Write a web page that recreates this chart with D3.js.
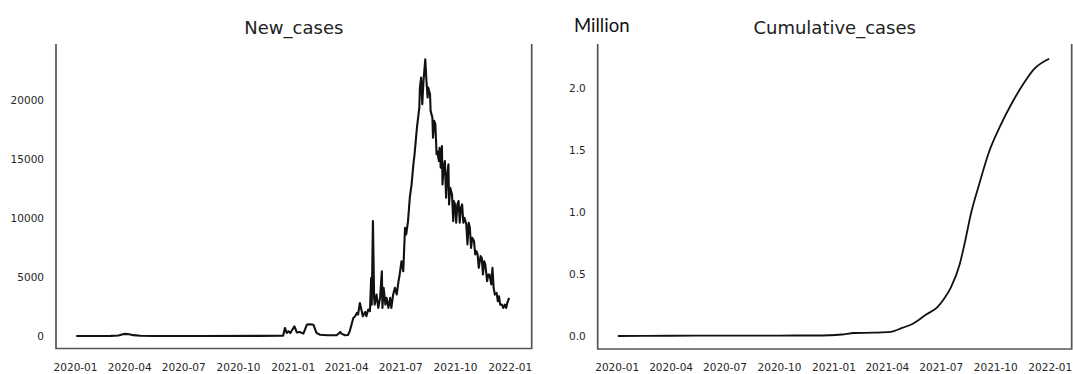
<!DOCTYPE html>
<html>
<head>
<meta charset="utf-8">
<script src="https://cdn.jsdelivr.net/npm/d3@7"></script>
<style>
  html, body { margin: 0; padding: 0; background: #fff; }
  svg { display: block; }
  .tick text { font-family: "DejaVu Sans", sans-serif; font-size: 10.5px; fill: #262626; }
  .title { font-family: "DejaVu Sans", sans-serif; font-size: 18px; fill: #222; }
  .unit { font-family: Lato, "Open Sans", sans-serif; font-size: 18.5px; fill: #111; }
</style>
</head>
<body>
<svg id="chart" width="1073" height="374"></svg>
<script>
// Quarterly date ticks shared by both panels
const tickLabels = ["2020-01", "2020-04", "2020-07", "2020-10", "2021-01",
                    "2021-04", "2021-07", "2021-10", "2022-01"];
const newCaseTicks = [0, 5000, 10000, 15000, 20000];
const cumTicks = [0.0, 0.5, 1.0, 1.5, 2.0];

// Daily new cases (sampled)
const newCaseDates = [
  "2020-01-03","2020-02-01","2020-03-01","2020-03-14","2020-03-20","2020-03-25","2020-04-01",
  "2020-04-08","2020-04-20","2020-05-10","2020-08-01","2020-11-01","2020-12-16","2020-12-19",
  "2020-12-22","2020-12-25","2020-12-28","2021-01-04","2021-01-08","2021-01-13","2021-01-19",
  "2021-01-25","2021-01-30","2021-02-05","2021-02-10","2021-02-16","2021-03-01","2021-03-16",
  "2021-03-22","2021-03-24","2021-03-30","2021-04-04","2021-04-07","2021-04-13","2021-04-16",
  "2021-04-19","2021-04-21","2021-04-24","2021-04-26","2021-04-29","2021-05-03","2021-05-05",
  "2021-05-08","2021-05-11","2021-05-13","2021-05-14","2021-05-16","2021-05-18","2021-05-19",
  "2021-05-22","2021-05-25","2021-05-28","2021-05-31","2021-06-01","2021-06-03","2021-06-06",
  "2021-06-08","2021-06-11","2021-06-14","2021-06-16","2021-06-19","2021-06-22","2021-06-25",
  "2021-06-28","2021-06-30","2021-07-03","2021-07-06","2021-07-09","2021-07-11","2021-07-14",
  "2021-07-17","2021-07-20","2021-07-23","2021-07-25","2021-07-27","2021-07-29","2021-07-31",
  "2021-08-02","2021-08-03","2021-08-05","2021-08-07","2021-08-09","2021-08-10","2021-08-12",
  "2021-08-14","2021-08-16","2021-08-17","2021-08-20","2021-08-21","2021-08-24","2021-08-25",
  "2021-08-27","2021-08-29","2021-08-31","2021-09-01","2021-09-04","2021-09-05","2021-09-07",
  "2021-09-09","2021-09-10","2021-09-12","2021-09-14","2021-09-16","2021-09-18","2021-09-20",
  "2021-09-21","2021-09-23","2021-09-26","2021-09-28","2021-09-29","2021-10-01","2021-10-03",
  "2021-10-05","2021-10-07","2021-10-09","2021-10-11","2021-10-13","2021-10-15","2021-10-17",
  "2021-10-20","2021-10-22","2021-10-24","2021-10-26","2021-10-28","2021-10-30","2021-11-02",
  "2021-11-04","2021-11-06","2021-11-08","2021-11-10","2021-11-13","2021-11-15","2021-11-17",
  "2021-11-19","2021-11-21","2021-11-24","2021-11-26","2021-11-28","2021-12-01","2021-12-03",
  "2021-12-05","2021-12-07","2021-12-10","2021-12-12","2021-12-14","2021-12-16","2021-12-19",
  "2021-12-21","2021-12-24","2021-12-26","2021-12-28","2021-12-31"
];
const newCases = [
  0, 5, 10, 40, 120, 180, 150,
  70, 20, 5, 5, 10, 20, 680,
  260, 400, 250, 820, 300, 340, 200,
  970, 990, 950, 260, 110, 60, 70,
  340, 200, 60, 90, 400, 1530, 1670,
  1960, 1820, 2800, 2380, 1670, 2040, 1670,
  2240, 2100, 4930, 2660, 9740, 3230, 2660,
  3510, 2380, 3230, 5490, 2380, 4080, 2660,
  3230, 2380, 3230, 2380, 3510, 4080, 3510,
  4640, 5210, 6340, 5490, 9170, 8610, 9740,
  11720, 12850, 14550, 15400, 16530, 17660, 18510,
  19360, 21060, 21910, 19650, 21620, 22190, 23460,
  21620, 20210, 21060, 20490, 19080, 18510, 16810,
  18230, 17950, 15400, 15680, 14830, 15960, 14270,
  16100, 12850, 14270, 14830, 11720, 13700, 14550,
  11150, 12570, 12000, 9740, 11440, 11150, 9600,
  11150, 11440, 9600, 10870, 11150, 9600, 10020,
  9450, 7760, 9600, 9170, 7470, 8330, 8040,
  6910, 7190, 6910, 5780, 6770, 6620, 5210,
  6340, 6060, 4640, 5210, 5210, 4370, 5780,
  4080, 3510, 3650, 2950, 3370, 2660, 2660,
  2380, 2660, 2380, 2800, 3230
];

// Cumulative cases, millions
const cumDates = [
  "2020-01-03","2020-04-01","2020-07-01","2020-10-01","2020-12-01","2020-12-26","2021-01-15",
  "2021-02-05","2021-03-10","2021-04-07","2021-04-27","2021-05-15","2021-06-07","2021-06-25",
  "2021-07-06","2021-07-18","2021-08-02","2021-08-10","2021-08-22","2021-09-03","2021-09-20",
  "2021-10-08","2021-10-31","2021-11-17","2021-12-05","2021-12-31"
];
const cumCases = [
  0, 0.0017, 0.0032, 0.0036, 0.004, 0.006, 0.012,
  0.024, 0.027, 0.033, 0.065, 0.099, 0.175, 0.23,
  0.296, 0.39, 0.578, 0.74, 1.008, 1.21, 1.478,
  1.68, 1.895, 2.03, 2.15, 2.236
];

const parse = d3.timeParse("%Y-%m-%d");
const parseMonth = d3.timeParse("%Y-%m");
const fmtMonth = d3.timeFormat("%Y-%m");
const svg = d3.select("#chart");
const xDomain = [parse("2019-11-30"), parse("2022-02-07")];

function panel(opt) {
  const g = svg.append("g");
  const x = d3.scaleTime().domain(xDomain).range([opt.left, opt.right]);
  const y = d3.scaleLinear().domain(opt.yDomain).range([opt.bottom, opt.top]);

  const xAxis = d3.axisBottom(x)
    .tickValues(tickLabels.map(parseMonth))
    .tickFormat(fmtMonth)
    .tickSize(0).tickPadding(15);
  const gx = g.append("g").attr("transform", `translate(0,${opt.bottom})`).call(xAxis);
  gx.select(".domain").remove();

  const yAxis = d3.axisLeft(y).tickValues(opt.ticks).tickFormat(opt.fmt)
    .tickSize(0).tickPadding(12);
  const gy = g.append("g").attr("transform", `translate(${opt.left},0)`).call(yAxis);
  gy.select(".domain").remove();

  // spines: left, bottom, right
  g.append("path")
    .attr("d", `M${opt.left},${opt.top}V${opt.bottom}H${opt.right}V${opt.top}`)
    .attr("stroke", "#555").attr("stroke-width", 1.7).attr("fill", "none");

  const line = d3.line()
    .x(d => x(d[0])).y(d => y(d[1]))
    .curve(opt.curve);
  g.append("path")
    .datum(opt.dates.map((d, i) => [parse(d), opt.values[i]]))
    .attr("d", line)
    .attr("fill", "none")
    .attr("stroke", "#111")
    .attr("stroke-width", opt.width)
    .attr("stroke-linejoin", "round");

  g.append("text").attr("class", "title")
    .attr("x", (opt.left + opt.right) / 2).attr("y", 34)
    .attr("text-anchor", "middle").text(opt.title);
}

panel({
  left: 56, right: 531.7, top: 44, bottom: 348.5,
  yDomain: [-1060, 24750], ticks: newCaseTicks, fmt: d3.format("d"),
  dates: newCaseDates, values: newCases, curve: d3.curveLinear, width: 2.1,
  title: "New_cases"
});

panel({
  left: 597.7, right: 1071.7, top: 44, bottom: 349,
  yDomain: [-0.105, 2.355], ticks: cumTicks, fmt: d3.format(".1f"),
  dates: cumDates, values: cumCases, curve: d3.curveMonotoneX, width: 1.8,
  title: "Cumulative_cases"
});

svg.append("text").attr("class", "unit")
  .attr("x", 574).attr("y", 31.5).text("Million");
</script>
</body>
</html>
